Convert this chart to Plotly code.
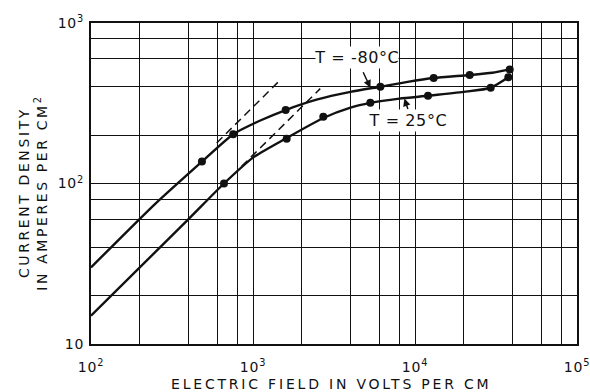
import numpy as np
import plotly.graph_objects as go

# ---- data ----
# T = -80 C curve (smooth line samples) and measured points
cold_curve_x = [100, 250, 484, 755, 1100, 1591, 2500, 4000, 6110, 9000, 13040, 21760, 30000, 38430]
cold_curve_y = [30, 75, 137, 203, 246, 287, 334, 372, 401, 430, 454, 474, 490, 514]
cold_pts_x = [484, 755, 1591, 6110, 13040, 21760, 38430]
cold_pts_y = [137, 203, 287, 401, 454, 474, 514]

# T = 25 C curve and measured points
warm_curve_x = [100, 400, 662, 1000, 1614, 2716, 4000, 5300, 8000, 12030, 20000, 29320, 37680]
warm_curve_y = [15, 60, 100, 145, 192, 256, 297, 318, 338, 352, 372, 395, 459]
warm_pts_x = [662, 1614, 2716, 5300, 12030, 29320, 37680]
warm_pts_y = [100, 190, 261, 319, 352, 395, 459]

# dashed low-field asymptotes
cold_asym_x = [597, 1454]
cold_asym_y = [179, 436]
warm_asym_x = [851, 2600]
warm_asym_y = [128, 390]

# grid / tick values
x_major = [100, 1000, 10000, 100000]
x_major_text = ["10<sup>2</sup>", "10<sup>3</sup>", "10<sup>4</sup>", "10<sup>5</sup>"]
y_major = [10, 100, 1000]
y_major_text = ["10", "10<sup>2</sup>", "10<sup>3</sup>"]
x_minor = [m * 10 ** e for e in (2, 3, 4) for m in (2, 4, 6, 8)]
y_minor = [m * 10 ** e for e in (1, 2) for m in (2, 4, 6, 8)]

FONT = "DejaVu Sans"
INK = "#111111"

fig = go.Figure()
line_style = dict(color=INK, width=2.4, shape="spline", smoothing=0.6)
fig.add_trace(go.Scatter(x=cold_curve_x, y=cold_curve_y, mode="lines", line=line_style, hoverinfo="skip"))
fig.add_trace(go.Scatter(x=warm_curve_x, y=warm_curve_y, mode="lines", line=line_style, hoverinfo="skip"))
dash_style = dict(color=INK, width=1.5, dash="8px,5px")
fig.add_trace(go.Scatter(x=cold_asym_x, y=cold_asym_y, mode="lines", line=dash_style, hoverinfo="skip"))
fig.add_trace(go.Scatter(x=warm_asym_x, y=warm_asym_y, mode="lines", line=dash_style, hoverinfo="skip"))
mk = dict(color=INK, size=8)
fig.add_trace(go.Scatter(x=cold_pts_x, y=cold_pts_y, mode="markers", marker=mk))
fig.add_trace(go.Scatter(x=warm_pts_x, y=warm_pts_y, mode="markers", marker=mk))

axis_common = dict(
    type="log", showgrid=True, gridcolor=INK, gridwidth=1.3, showline=True, mirror=True,
    linecolor=INK, linewidth=2.2, ticks="", zeroline=False, automargin=False,
    tickfont=dict(family=FONT, size=14, color=INK),
)
fig.update_xaxes(range=[2, 5], tickmode="array", tickvals=x_major, ticktext=x_major_text,
                 ticklabelstandoff=9,
                 minor=dict(tickmode="array", tickvals=x_minor, showgrid=True,
                            gridcolor=INK, gridwidth=1.3, ticks=""),
                 **axis_common)
fig.update_yaxes(range=[1, 3], tickmode="array", tickvals=y_major, ticktext=y_major_text,
                 ticklabelstandoff=2,
                 minor=dict(tickmode="array", tickvals=y_minor, showgrid=True,
                            gridcolor=INK, gridwidth=1.3, ticks=""),
                 **axis_common)

title_font = dict(family=FONT, size=14, color=INK)
label_font = dict(family=FONT, size=16, color=INK)
annotations = [
    dict(text="ELECTRIC FIELD IN VOLTS PER CM", xref="paper", yref="paper",
         x=0.494, y=-0.125, xanchor="center", yanchor="middle", showarrow=False, font=title_font),
    dict(text="CURRENT DENSITY<br>IN AMPERES PER CM<sup>2</sup>", xref="paper", yref="paper",
         x=-0.119, y=0.47, xanchor="center", yanchor="middle", textangle=-90, showarrow=False,
         font=title_font),
    dict(text="T = -80°C", xref="paper", yref="paper", x=(356.5 - 91) / 486, y=(344 - 57.5) / 321,
         xanchor="center", yanchor="middle", showarrow=False, font=label_font,
         bgcolor="white", borderpad=1),
    dict(text="T = 25°C", xref="paper", yref="paper", x=(408 - 91) / 486, y=(344 - 120.5) / 321,
         xanchor="center", yanchor="middle", showarrow=False, font=label_font,
         bgcolor="white", borderpad=1),
    # arrows pointing to curves
    dict(text="", x=np.log10(5310), y=np.log10(395), xref="x", yref="y", showarrow=True,
         ax=-8, ay=-17, arrowhead=2, arrowsize=1, arrowwidth=1.5, arrowcolor=INK),
    dict(text="", x=np.log10(8600), y=np.log10(338), xref="x", yref="y", showarrow=True,
         ax=4, ay=12, arrowhead=2, arrowsize=1, arrowwidth=1.5, arrowcolor=INK),
]

fig.update_layout(
    width=590, height=392,
    margin=dict(l=91, r=13, t=23, b=48, autoexpand=False),
    paper_bgcolor="white", plot_bgcolor="white",
    showlegend=False, annotations=annotations,
    font=dict(family=FONT, color=INK),
)

post = """
document.body.style.margin='0';
var gd = document.getElementById('{plot_id}');
var anns = gd.querySelectorAll('.annotation-text');
var sp = ['2.8px', '2.6px', '0.6px', '0.6px'];
for (var i = 0; i < anns.length && i < sp.length; i++) { anns[i].style.letterSpacing = sp[i]; }
gd.querySelectorAll('.xtick text, .ytick text').forEach(function(t){ t.style.letterSpacing = '0.8px'; });
"""

fig.write_html("out.html", config={"displayModeBar": False}, post_script=post)
